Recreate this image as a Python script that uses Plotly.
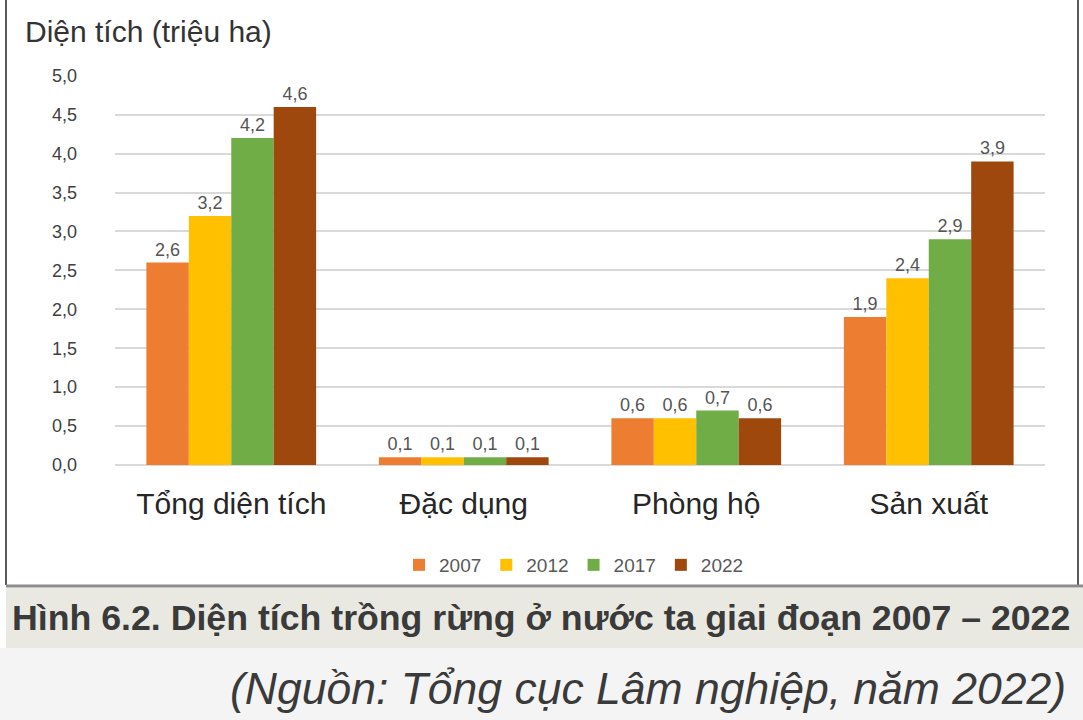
"""Diện tích trồng rừng ở nước ta giai đoạn 2007 – 2022 (Hình 6.2)."""

import plotly.graph_objects as go

# ---- data -------------------------------------------------------------------
categories = ["Tổng diện tích", "Đặc dụng", "Phòng hộ", "Sản xuất"]
years = ["2007", "2012", "2017", "2022"]
area_2007 = [2.6, 0.1, 0.6, 1.9]
area_2012 = [3.2, 0.1, 0.6, 2.4]
area_2017 = [4.2, 0.1, 0.7, 2.9]
area_2022 = [4.6, 0.1, 0.6, 3.9]
y_ticks = [0, 0.5, 1.0, 1.5, 2.0, 2.5, 3.0, 3.5, 4.0, 4.5, 5.0]

series = [area_2007, area_2012, area_2017, area_2022]
colors = ["#ED7D31", "#FFC000", "#70AD47", "#9E480E"]

W, H = 1083, 720
FONT = "Liberation Sans, Arial, sans-serif"


def py(y):
    """Pixel row -> paper fraction."""
    return 1 - y / H


def px(x):
    return x / W


fig = go.Figure()

for yr, vals, col in zip(years, series, colors):
    fig.add_trace(
        go.Bar(
            x=categories,
            y=vals,
            name=yr,
            marker=dict(color=col, line=dict(width=0)),
            texttemplate="%{y:.1f}",
            textposition="outside",
            textfont=dict(size=18, color="#555555", family=FONT),
            cliponaxis=False,
        )
    )

fig.update_layout(
    width=W,
    height=H,
    margin=dict(l=0, r=0, t=0, b=0, autoexpand=False),
    paper_bgcolor="white",
    plot_bgcolor="white",
    separators=",.",
    barmode="group",
    bargap=0.27,
    bargroupgap=0,
    font=dict(family=FONT, color="#333333"),
    showlegend=True,
    legend=dict(
        orientation="h",
        x=px(574),
        xanchor="center",
        y=py(565),
        yanchor="middle",
        font=dict(size=19, color="#595959"),
        itemwidth=30,
    ),
    xaxis=dict(
        domain=[px(115), px(1045)],
        tickfont=dict(size=30, color="#262626"),
        ticklabelstandoff=18,
        showline=False,
        showgrid=False,
        automargin=False,
    ),
    yaxis=dict(
        domain=[py(465), py(75)],
        range=[0, 5.01],
        tickvals=y_ticks,
        tickformat=".1f",
        tickfont=dict(size=18, color="#404040"),
        ticklabelstandoff=37,
        showgrid=True,
        gridcolor="#D9D9D9",
        gridwidth=1.5,
        zeroline=True,
        zerolinecolor="#D9D9D9",
        zerolinewidth=1.5,
        automargin=False,
    ),
)

# y-axis title
fig.add_annotation(
    text="Diện tích (triệu ha)",
    x=px(23), y=py(32), xref="paper", yref="paper",
    xanchor="left", yanchor="middle", showarrow=False,
    font=dict(size=30, color="#333333"),
)

# chart box borders
fig.add_shape(type="line", xref="paper", yref="paper",
              x0=px(6), x1=px(6), y0=py(585), y1=1,
              line=dict(color="#5A5A5A", width=2))
fig.add_shape(type="line", xref="paper", yref="paper",
              x0=px(1078), x1=px(1078), y0=py(585), y1=1,
              line=dict(color="#5A5A5A", width=2))
fig.add_shape(type="line", xref="paper", yref="paper",
              x0=px(6), x1=1, y0=py(586), y1=py(586),
              line=dict(color="#8C8C8C", width=3))

# caption band and footer background
fig.add_shape(type="rect", xref="paper", yref="paper", layer="below",
              x0=px(6), x1=1, y0=py(648), y1=py(588),
              fillcolor="#E9E9E2", line=dict(width=0))
fig.add_shape(type="rect", xref="paper", yref="paper", layer="below",
              x0=0, x1=1, y0=0, y1=py(648),
              fillcolor="#F4F4F4", line=dict(width=0))

fig.add_annotation(
    text="<b>Hình 6.2. Diện tích trồng rừng ở nước ta giai đoạn 2007 – 2022</b>",
    x=px(10), y=py(618), xref="paper", yref="paper",
    xanchor="left", yanchor="middle", showarrow=False,
    font=dict(size=35.7, color="#3A3A3A"),
)
fig.add_annotation(
    text="<i>(Nguồn: Tổng cục Lâm nghiệp, năm 2022)</i>",
    x=px(1068), y=py(688), xref="paper", yref="paper",
    xanchor="right", yanchor="middle", showarrow=False,
    font=dict(size=44.5, color="#3A3A3A"),
)

fig.write_html(
    "out.html",
    config={"displayModeBar": False},
    post_script="document.body.style.margin='0';",
)
